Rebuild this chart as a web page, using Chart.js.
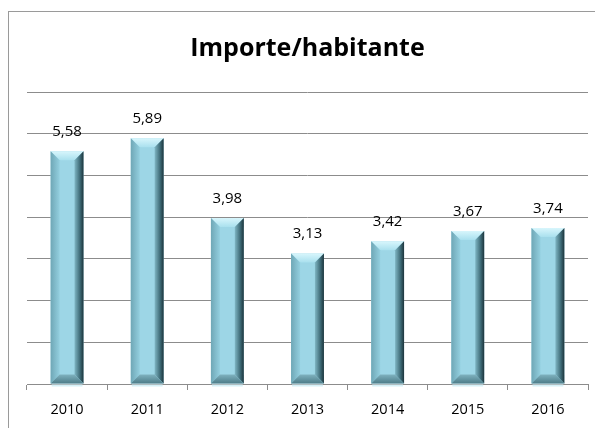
<!DOCTYPE html>
<html>
<head>
<meta charset="utf-8">
<script src="https://cdn.jsdelivr.net/npm/chart.js@4/dist/chart.umd.min.js"></script>
<style>
html,body{margin:0;padding:0;background:#fff;}
#wrap{width:595px;height:428px;position:relative;}
</style>
</head>
<body>
<div id="wrap"><canvas id="c" width="595" height="428"></canvas></div>
<script>
const categories = ['2010','2011','2012','2013','2014','2015','2016'];
const values = [5.58, 5.89, 3.98, 3.13, 3.42, 3.67, 3.74];
const yTicks = [0,1,2,3,4,5,6,7];
const chartTitle = 'Importe/habitante';

const fontFam = "'Open Sans', 'Liberation Sans', sans-serif";

const framePlugin = {
  id: 'frame',
  beforeDraw(chart) {
    const ctx = chart.ctx;
    ctx.save();
    ctx.fillStyle = '#fff';
    ctx.fillRect(0, 0, chart.width, chart.height);
    ctx.strokeStyle = '#9a9a9a';
    ctx.lineWidth = 1;
    ctx.strokeRect(8.5, 11.5, 700, 600);
    ctx.restore();
  }
};

const bevelPlugin = {
  id: 'bevel',
  afterDatasetsDraw(chart) {
    const ctx = chart.ctx;
    const meta = chart.getDatasetMeta(0);
    ctx.save();
    meta.data.forEach((el) => {
      const p = el.getProps(['x','y','base','width'], true);
      const l = p.x - p.width / 2, r = p.x + p.width / 2;
      const t = p.y, bot = p.base;
      const b = Math.min(9, (bot - t) / 2);
      let g = ctx.createLinearGradient(0, t, 0, t + b);
      g.addColorStop(0, '#d8f6fc'); g.addColorStop(1, '#a9e0ee');
      ctx.fillStyle = g;
      ctx.beginPath(); ctx.moveTo(l, t); ctx.lineTo(r, t); ctx.lineTo(r - b, t + b); ctx.lineTo(l + b, t + b); ctx.closePath(); ctx.fill();
      g = ctx.createLinearGradient(l, 0, l + b, 0);
      g.addColorStop(0, '#6fa7b6'); g.addColorStop(1, '#93cfdf');
      ctx.fillStyle = g;
      ctx.beginPath(); ctx.moveTo(l, t); ctx.lineTo(l + b, t + b); ctx.lineTo(l + b, bot - b); ctx.lineTo(l, bot); ctx.closePath(); ctx.fill();
      g = ctx.createLinearGradient(r - b, 0, r, 0);
      g.addColorStop(0, '#7fb6c4'); g.addColorStop(0.6, '#3f6c78'); g.addColorStop(1, '#1c343b');
      ctx.fillStyle = g;
      ctx.beginPath(); ctx.moveTo(r, t); ctx.lineTo(r, bot); ctx.lineTo(r - b, bot - b); ctx.lineTo(r - b, t + b); ctx.closePath(); ctx.fill();
      g = ctx.createLinearGradient(0, bot - b, 0, bot);
      g.addColorStop(0, '#7fb2bf'); g.addColorStop(1, '#4d7c88');
      ctx.fillStyle = g;
      ctx.beginPath(); ctx.moveTo(l, bot); ctx.lineTo(r, bot); ctx.lineTo(r - b, bot - b); ctx.lineTo(l + b, bot - b); ctx.closePath(); ctx.fill();
      ctx.fillStyle = '#d6f1f8';
      ctx.fillRect(l + 1, bot + 1, p.width - 2, 2);
    });
    ctx.restore();
  }
};

const labelPlugin = {
  id: 'valueLabels',
  afterDatasetsDraw(chart) {
    const ctx = chart.ctx;
    const meta = chart.getDatasetMeta(0);
    ctx.save();
    ctx.fillStyle = '#000';
    ctx.font = '15px ' + fontFam;
    ctx.textAlign = 'center';
    ctx.textBaseline = 'alphabetic';
    meta.data.forEach((el, i) => {
      const v = chart.data.datasets[0].data[i];
      ctx.fillText(v.toFixed(2).replace('.', ','), el.x, el.y - 15);
    });
    ctx.restore();
  }
};

new Chart(document.getElementById('c'), {
  type: 'bar',
  data: {
    labels: categories,
    datasets: [{
      data: values,
      backgroundColor: '#9dd6e6',
      borderWidth: 0,
      barPercentage: 0.41,
      categoryPercentage: 1.0
    }]
  },
  options: {
    responsive: false,
    animation: false,
    devicePixelRatio: 1,
    layout: { padding: { left: 27, right: 7, top: 0, bottom: 0 } },
    plugins: {
      legend: { display: false },
      tooltip: { enabled: false },
      title: {
        display: true,
        text: chartTitle,
        color: '#000',
        font: { family: fontFam, size: 25, weight: 'bold', lineHeight: 1.2 },
        padding: { top: 34, bottom: 28 }
      }
    },
    scales: {
      x: {
        grid: { offset: true, drawOnChartArea: false, drawTicks: true, tickLength: 6, color: '#8c8c8c' },
        border: { display: true, color: '#8c8c8c', width: 1 },
        ticks: { color: '#000', font: { family: fontFam, size: 14.5 }, padding: 11 },
        afterFit(s) { s.height = 44; }
      },
      y: {
        min: 0, max: 7,
        afterBuildTicks(s) { s.ticks = yTicks.map(v => ({ value: v })); },
        grid: { color: '#8c8c8c', drawTicks: false },
        border: { display: false },
        ticks: { display: false }
      }
    }
  },
  plugins: [framePlugin, bevelPlugin, labelPlugin]
});
</script>
</body>
</html>
